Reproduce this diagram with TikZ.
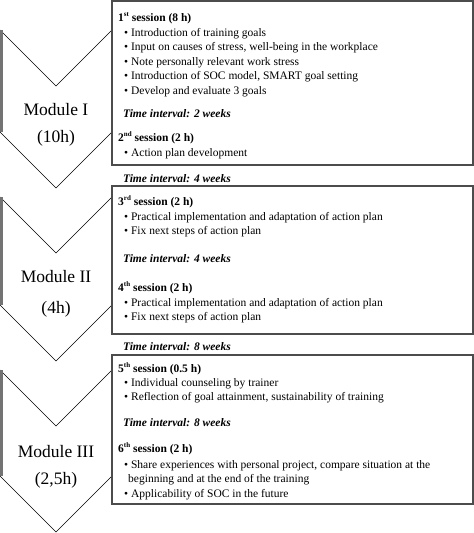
\documentclass[tikz,border=0pt]{standalone}
\usepackage{fontspec}
\setmainfont{Liberation Serif}
\newcommand{\sesup}[1]{\raisebox{0.85ex}{\fontsize{7}{7}\selectfont #1}}
\begin{document}
\begin{tikzpicture}[
  x=1pt,
  y=-1pt,
  chevronline/.style={
    draw=black,
    line width=0.6pt,
    line join=miter
  },
  chevronedge/.style={
    draw=black!55,
    line width=2.6pt
  },
  sessionbox/.style={
    draw=black!70,
    fill=white,
    line width=1.4pt
  },
  modtext/.style={font=\fontsize{17.5}{20}\selectfont, inner sep=0pt},
  headtext/.style={font=\fontsize{11.5}{14}\selectfont\bfseries, anchor=base west, inner sep=0pt},
  itemtext/.style={font=\fontsize{11.5}{14}\selectfont, anchor=base west, inner sep=0pt},
  gaptext/.style={font=\fontsize{11.5}{14}\selectfont\bfseries\itshape, anchor=base west, inner sep=0pt}
]

\useasboundingbox (0,0) rectangle (474,533);

% chevron: #1 top corners, #2 foot of the sides
\newcommand{\drawmodulechevron}[2]{%
  \draw[chevronline] (0,#1) -- (56,#1+56) -- (112,#1) -- (112,#2)
    -- (56,#2+56) -- (0,#2);
  \draw[chevronedge] (1.3,#1) -- (1.3,#2);
}

% bullet list: #1 name, #2 first baseline, #3 items
\newcommand{\drawsessionitems}[3]{%
  \foreach \itemtxt [count=\n from 0] in {#3} {
    \node[itemtext] (#1\n) at (124,#2+14.5*\n) {\textbullet\ \itemtxt};
  }
}

\drawmodulechevron{30}{132}
\drawmodulechevron{197}{305}
\drawmodulechevron{370}{476}

\node[modtext] (modI) at (56,110) {Module I};
\node[modtext] (modIh) at (56,138) {(10h)};
\node[modtext] (modII) at (56,277) {Module II};
\node[modtext] (modIIh) at (56,309) {(4h)};
\node[modtext] (modIII) at (56,452) {Module III};
\node[modtext] (modIIIh) at (56,480) {(2,5h)};

\draw[sessionbox] (112,1) rectangle (473,165);
\draw[sessionbox] (112,186) rectangle (473,334);
\draw[sessionbox] (112,355) rectangle (473,504);

% module I
\node[headtext] (sesA) at (118,21) {1\sesup{st} session (8 h)};
\drawsessionitems{sesAi}{36}{Introduction of training goals,
  {Input on causes of stress, well-being in the workplace},
  Note personally relevant work stress,
  {Introduction of SOC model, SMART goal setting},
  Develop and evaluate 3 goals}
\node[gaptext] (gapA) at (123,117) {Time interval: 2 weeks};
\node[headtext] (sesB) at (118,141) {2\sesup{nd} session (2 h)};
\drawsessionitems{sesBi}{156}{Action plan development}

\node[gaptext] (gapB) at (123,182) {Time interval: 4 weeks};

% module II
\node[headtext] (sesC) at (118,205) {3\sesup{rd} session (2 h)};
\drawsessionitems{sesCi}{220}{Practical implementation and adaptation of action plan,
  Fix next steps of action plan}
\node[gaptext] (gapC) at (123,262) {Time interval: 4 weeks};
\node[headtext] (sesD) at (118,291) {4\sesup{th} session (2 h)};
\drawsessionitems{sesDi}{306}{Practical implementation and adaptation of action plan,
  Fix next steps of action plan}

\node[gaptext] (gapD) at (123,350) {Time interval: 8 weeks};

% module III
\node[headtext] (sesE) at (118,372) {5\sesup{th} session (0.5 h)};
\drawsessionitems{sesEi}{386}{Individual counseling by trainer,
  {Reflection of goal attainment, sustainability of training}}
\node[gaptext] (gapE) at (123,426) {Time interval: 8 weeks};
\node[headtext] (sesF) at (118,452) {6\sesup{th} session (2 h)};
\node[itemtext] (sesFi0) at (124,468) {\textbullet\ Share experiences with personal project, compare situation at the};
\node[itemtext] (sesFi0b) at (128,482) {beginning and at the end of the training};
\node[itemtext] (sesFi1) at (124,497) {\textbullet\ Applicability of SOC in the future};

\end{tikzpicture}
\end{document}
